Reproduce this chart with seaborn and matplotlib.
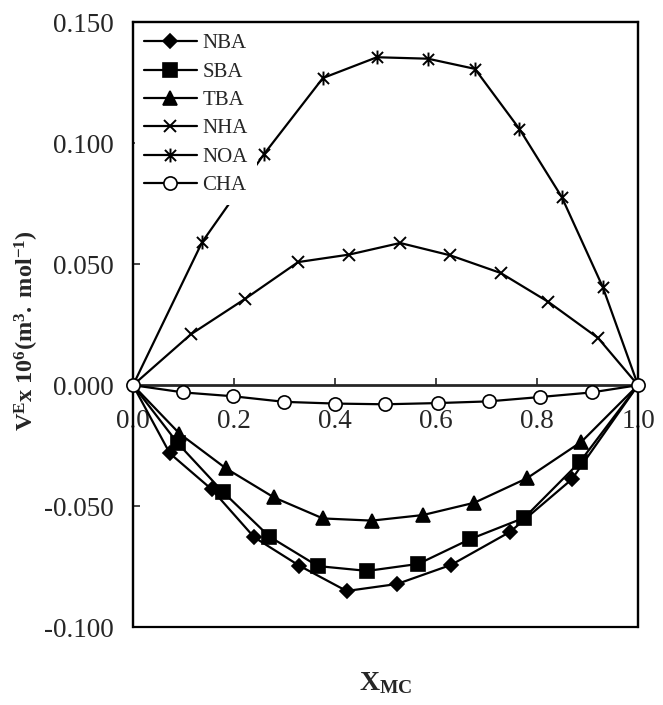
"""Volumen de exceso V^E vs fraccion molar X_MC."""
import numpy as np
import pandas as pd
import matplotlib
matplotlib.use("Agg")
import matplotlib.pyplot as plt
from matplotlib.path import Path
from matplotlib.patches import Rectangle
import seaborn as sns

# datos
x_nba = [0, 0.073, 0.156, 0.240, 0.329, 0.423, 0.523, 0.630, 0.747, 0.869, 1.0]
y_nba = [0, -0.0282, -0.0431, -0.0629, -0.0746, -0.0851, -0.0822, -0.0743, -0.0606, -0.0389, 0]

x_sba = [0, 0.089, 0.178, 0.270, 0.366, 0.464, 0.565, 0.667, 0.775, 0.885, 1.0]
y_sba = [0, -0.0241, -0.0441, -0.0626, -0.0748, -0.0768, -0.0739, -0.0637, -0.0548, -0.0317, 0]

x_tba = [0, 0.092, 0.184, 0.279, 0.376, 0.473, 0.574, 0.676, 0.780, 0.888, 1.0]
y_tba = [0, -0.0200, -0.0344, -0.0464, -0.0551, -0.0560, -0.0537, -0.0486, -0.0385, -0.0234, 0]

x_nha = [0, 0.115, 0.222, 0.327, 0.428, 0.529, 0.628, 0.728, 0.822, 0.921, 1.0]
y_nha = [0, 0.0211, 0.0357, 0.0509, 0.0540, 0.0588, 0.0537, 0.0464, 0.0345, 0.0195, 0]

x_noa = [0, 0.137, 0.260, 0.376, 0.483, 0.584, 0.677, 0.765, 0.849, 0.930, 1.0]
y_noa = [0, 0.0592, 0.0957, 0.1270, 0.1356, 0.1350, 0.1308, 0.1060, 0.0778, 0.0407, 0]

x_cha = [0, 0.100, 0.199, 0.300, 0.400, 0.499, 0.603, 0.704, 0.806, 0.908, 1.0]
y_cha = [0, -0.0030, -0.0046, -0.0069, -0.0076, -0.0079, -0.0074, -0.0067, -0.0049, -0.0030, 0]

x_ticks = [0.0, 0.2, 0.4, 0.6, 0.8, 1.0]
y_ticks = [-0.100, -0.050, 0.000, 0.050, 0.100, 0.150]

sns.set_style("ticks")
plt.rcParams["font.family"] = ["Liberation Serif", "DejaVu Serif"]
plt.rcParams["mathtext.fontset"] = "custom"
plt.rcParams["mathtext.rm"] = "Liberation Serif"
plt.rcParams["mathtext.it"] = "Liberation Serif:italic"
plt.rcParams["mathtext.bf"] = "Liberation Serif:bold"

# asterisco: x con linea vertical
star = Path(
    [(-1, -1), (1, 1), (-1, 1), (1, -1), (0, -1.25), (0, 1.25)],
    [Path.MOVETO, Path.LINETO, Path.MOVETO, Path.LINETO, Path.MOVETO, Path.LINETO],
)

series = [
    ("NBA", x_nba, y_nba, dict(marker="D", markersize=7.5, markerfacecolor="black")),
    ("SBA", x_sba, y_sba, dict(marker="s", markersize=9.5, markerfacecolor="black")),
    ("TBA", x_tba, y_tba, dict(marker="^", markersize=10.5, markerfacecolor="black")),
    ("NHA", x_nha, y_nha, dict(marker="x", markersize=9, markeredgewidth=1.4)),
    ("NOA", x_noa, y_noa, dict(marker=star, markersize=10, markeredgewidth=1.4)),
    ("CHA", x_cha, y_cha, dict(marker="o", markersize=9.5, markerfacecolor="white")),
]

fig = plt.figure(figsize=(6.63, 7.05), dpi=100)
ax = fig.add_axes([0.2006, 0.1106, 0.7617, 0.8576])

for name, xs, ys, mk in series:
    df = pd.DataFrame({"x": xs, "y": ys})
    every = None if name == "CHA" else slice(1, -1)
    sns.lineplot(data=df, x="x", y="y", ax=ax, color="black", lw=1.6,
                 label=name, markevery=every, markeredgecolor="black",
                 clip_on=(name != "CHA"), zorder=6 if name == "CHA" else 2,
                 **({"markeredgewidth": 1.2} | mk))

ax.set_xlim(0, 1)
ax.set_ylim(-0.100, 0.150)
ax.set_xticks(x_ticks)
ax.set_yticks(y_ticks)
ax.set_xticklabels([f"{v:.1f}" for v in x_ticks])
ax.set_yticklabels([f"{v:.3f}" for v in y_ticks])
ax.tick_params(axis="x", direction="in", length=5, width=1.2, pad=17, labelsize=19.5)
ax.tick_params(axis="y", direction="in", length=5, width=1.2, pad=14, labelsize=19.5)

# eje x en cero, caja alrededor
ax.spines["bottom"].set_position(("data", 0))
ax.spines["bottom"].set_linewidth(2.0)
for s in ["left", "right", "top"]:
    ax.spines[s].set_linewidth(1.6)
ax.add_patch(Rectangle((0, 0), 1, 1, transform=ax.transAxes, fill=False,
                       lw=1.6, ec="black", clip_on=False, zorder=5))

ax.set_xlabel(r"$\mathbf{X_{MC}}$", fontsize=20)
ax.xaxis.set_label_coords(0.5, -0.072)
ax.set_ylabel(r"$\mathbf{V^{E}x\ 10^{6}(m^{3}.\ mol^{-1})}$", fontsize=17.5)
ax.yaxis.set_label_coords(-0.183, 0.49)

leg = ax.legend(loc="upper left", bbox_to_anchor=(0, 1), fontsize=15,
                frameon=True, facecolor="white", edgecolor="none", framealpha=1,
                fancybox=False, handlelength=2.5, handletextpad=0.28,
                labelspacing=0.42, borderpad=0.45, borderaxespad=0.1)
leg.set_zorder(7)

fig.savefig("out.png", dpi=100)
